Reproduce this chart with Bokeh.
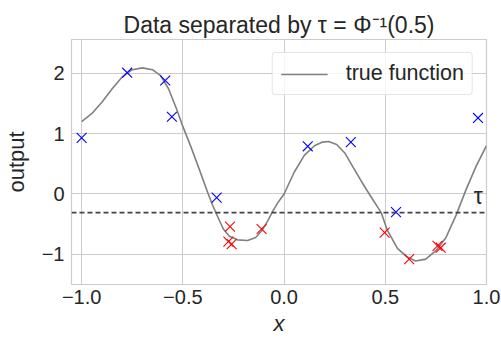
from bokeh.plotting import figure
from bokeh.models import Range1d, FixedTicker, Span, Label
from bokeh.embed import file_html
from bokeh.resources import INLINE

# sampled values of the true function
curve_x = [-1.00, -0.95, -0.90, -0.85, -0.80, -0.75, -0.70, -0.65, -0.61, -0.57,
           -0.53, -0.50, -0.46, -0.42, -0.38, -0.355, -0.33, -0.30, -0.27, -0.23,
           -0.18, -0.14, -0.11, -0.08, -0.055, -0.03, 0.00, 0.05, 0.10, 0.15,
           0.19, 0.22, 0.26, 0.30, 0.34, 0.38, 0.43, 0.48, 0.51, 0.56,
           0.61, 0.65, 0.70, 0.75, 0.80, 0.85, 0.90, 0.95, 1.00]
curve_y = [1.20, 1.33, 1.52, 1.74, 1.94, 2.06, 2.09, 2.06, 1.96, 1.74,
           1.40, 1.12, 0.78, 0.42, 0.05, -0.17, -0.36, -0.58, -0.70, -0.76,
           -0.77, -0.72, -0.61, -0.44, -0.28, -0.14, 0.00, 0.36, 0.64, 0.80,
           0.86, 0.87, 0.82, 0.68, 0.45, 0.22, -0.05, -0.31, -0.60, -0.90,
           -1.05, -1.11, -1.08, -0.94, -0.72, -0.35, 0.08, 0.47, 0.80]

# observations above the threshold
above_x = [-1.00, -0.775, -0.587, -0.554, -0.333, 0.117, 0.33, 0.553, 0.958]
above_y = [0.93, 2.01, 1.88, 1.28, -0.06, 0.79, 0.86, -0.30, 1.26]

# observations below the threshold
below_x = [-0.267, -0.275, -0.259, -0.111, 0.497, 0.618, 0.758, 0.774]
below_y = [-0.54, -0.79, -0.83, -0.58, -0.64, -1.08, -0.86, -0.89]

tau = -0.31

x_ticks = [-1.0, -0.5, 0.0, 0.5, 1.0]
x_tick_labels = ["\u22121.0", "\u22120.5", "0.0", "0.5", "1.0"]
y_ticks = [-1, 0, 1, 2]
y_tick_labels = ["\u22121", "0", "1", "2"]

FONT = "Liberation Sans"
TEXT = "#262626"
GRID = "#cccccc"

p = figure(width=501, height=338,
           x_range=Range1d(-1.05, 1.0), y_range=Range1d(-1.5, 2.56),
           output_backend="svg", toolbar_location=None,
           min_border_left=70, min_border_right=15,
           min_border_top=39, min_border_bottom=54)

p.title.text = "Data separated by \u03c4 = \u03a6\u207b\u00b9(0.5)"
p.title.align = "center"
p.title.text_font = FONT
p.title.text_font_size = "23px"
p.title.text_font_style = "normal"
p.title.text_color = TEXT
p.title.standoff = 4

p.background_fill_color = "white"
p.border_fill_color = "white"
p.outline_line_color = GRID
p.outline_line_width = 1.2

p.grid.grid_line_color = GRID
p.grid.grid_line_width = 1
p.xgrid.ticker = FixedTicker(ticks=x_ticks)
p.ygrid.ticker = FixedTicker(ticks=y_ticks)

p.xaxis.ticker = FixedTicker(ticks=x_ticks)
p.xaxis.major_label_overrides = dict(zip(x_ticks, x_tick_labels))
p.yaxis.ticker = FixedTicker(ticks=y_ticks)
p.yaxis.major_label_overrides = dict(zip(y_ticks, y_tick_labels))

for ax in (p.xaxis, p.yaxis):
    ax.axis_line_color = None
    ax.major_tick_line_color = None
    ax.minor_tick_line_color = None
    ax.major_tick_out = 0
    ax.major_tick_in = 0
    ax.minor_tick_out = 0
    ax.minor_tick_in = 0
    ax.major_label_text_font = FONT
    ax.major_label_text_font_size = "20px"
    ax.major_label_text_color = TEXT
    ax.axis_label_text_font = FONT
    ax.axis_label_text_font_size = "22px"
    ax.axis_label_text_color = TEXT

p.xaxis.major_label_standoff = 5
p.yaxis.major_label_standoff = 7
p.xaxis.axis_label = "x"
p.xaxis.axis_label_text_font_style = "italic"
p.xaxis.axis_label_standoff = 4
p.yaxis.axis_label = "output"
p.yaxis.axis_label_text_font_style = "normal"
p.yaxis.axis_label_standoff = 10

# threshold line and its symbol
p.add_layout(Span(location=tau, dimension="width", line_color="#444444",
                  line_width=1.8, line_dash="5 3"))
p.add_layout(Label(x=0.96, y=tau, text="\u03c4", text_font=FONT,
                   text_font_size="23px", text_color=TEXT, text_align="center",
                   text_baseline="bottom", y_offset=4))

p.line(curve_x, curve_y, line_color="#808080", line_width=1.6,
       line_join="round", legend_label="true function")

p.scatter(above_x, above_y, marker="x", size=14, line_color="blue", line_width=1.1)
p.scatter(below_x, below_y, marker="x", size=14, line_color="red", line_width=1.1)

lg = p.legend[0]
lg.location = "top_right"
lg.margin = 13
lg.padding = 8
lg.label_text_font = FONT
lg.label_text_font_size = "21.5px"
lg.label_text_color = TEXT
lg.label_standoff = 18
lg.glyph_width = 47
lg.glyph_height = 20
lg.label_height = 20
lg.border_line_color = GRID
lg.border_line_width = 1
lg.background_fill_color = "white"
lg.background_fill_alpha = 0.8
if "border_radius" in lg.properties():
    lg.border_radius = 4

open("out.html", "w").write(file_html(p, INLINE))
